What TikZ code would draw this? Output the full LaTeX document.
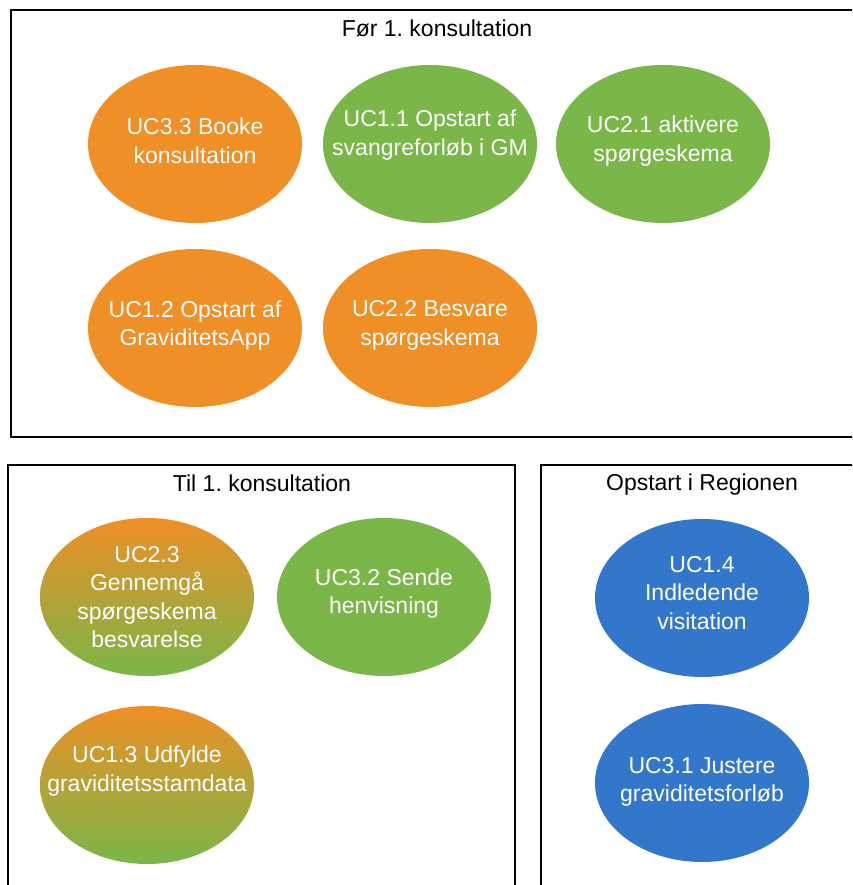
\documentclass[tikz,border=0pt]{standalone}
\usepackage{fontspec}
\setmainfont{Liberation Sans}
\frenchspacing
\usetikzlibrary{shapes.geometric}
\definecolor{ucorange}{RGB}{239,143,38}
\definecolor{ucgreen}{RGB}{122,182,72}
\definecolor{ucblue}{RGB}{51,119,204}
\tikzset{
  frame/.style={draw=black, line width=2.5pt},
  uc/.style={ellipse, draw=none, minimum width=214pt, minimum height=158pt, inner sep=0pt},
  ucgrad/.style={uc, top color=ucorange, bottom color=ucgreen},
  uctext/.style={text=white, align=center, inner sep=0pt, font=\fontsize{23}{28.5}\selectfont},
  title/.style={text=black, inner sep=0pt, font=\fontsize{23}{28}\selectfont}
}
\begin{document}
\begin{tikzpicture}[x=1pt,y=1pt]
\clip (0,0) rectangle (852,885);
\fill[white] (0,0) rectangle (852,885);
% frames
\draw[frame] (11,875) rectangle (870,448);
\draw[frame] (8,420) rectangle (515,-20);
\draw[frame] (541,420) rectangle (870,-20);
% titles
\node[title] (t1) at (437,857) {Før 1. konsultation};
\node[title] (t2) at (262,402) {Til 1. konsultation};
\node[title] (t3) at (702,400) {Opstart i Regionen};
% Før 1. konsultation
\node[uc, fill=ucorange] (uc33) at (195,741) {};
\node[uctext] (uc33t) at (195,744) {UC3.3 Booke\\konsultation};
\node[uc, fill=ucgreen] (uc11) at (430,741) {};
\node[uctext] (uc11t) at (430,750) {UC1.1 Opstart af\\svangreforløb i GM};
\node[uc, fill=ucgreen] (uc21) at (663,741) {};
\node[uctext] (uc21t) at (663,744) {UC2.1 aktivere\\spørgeskema};
\node[uc, fill=ucorange] (uc12) at (195,557) {};
\node[uctext] (uc12t) at (195,559.5) {UC1.2 Opstart af\\GraviditetsApp};
\node[uc, fill=ucorange] (uc22) at (430,557) {};
\node[uctext] (uc22t) at (430,559.5) {UC2.2 Besvare\\spørgeskema};
% Til 1. konsultation
\node[ucgrad] (uc23) at (147,288) {};
\node[uctext] (uc23t) at (147,288) {UC2.3\\Gennemgå\\spørgeskema\\besvarelse};
\node[uc, fill=ucgreen] (uc32) at (384,288) {};
\node[uctext] (uc32t) at (384,291.5) {UC3.2 Sende\\henvisning};
\node[ucgrad] (uc13) at (147,100) {};
\node[uctext] (uc13t) at (147,114) {UC1.3 Udfylde\\graviditetsstamdata};
% Opstart i Regionen
\node[uc, fill=ucblue] (uc14) at (702,287) {};
\node[uctext] (uc14t) at (702,292) {UC1.4\\Indledende\\visitation};
\node[uc, fill=ucblue] (uc31) at (702,102) {};
\node[uctext] (uc31t) at (702,103) {UC3.1 Justere\\graviditetsforløb};
\end{tikzpicture}
\end{document}
